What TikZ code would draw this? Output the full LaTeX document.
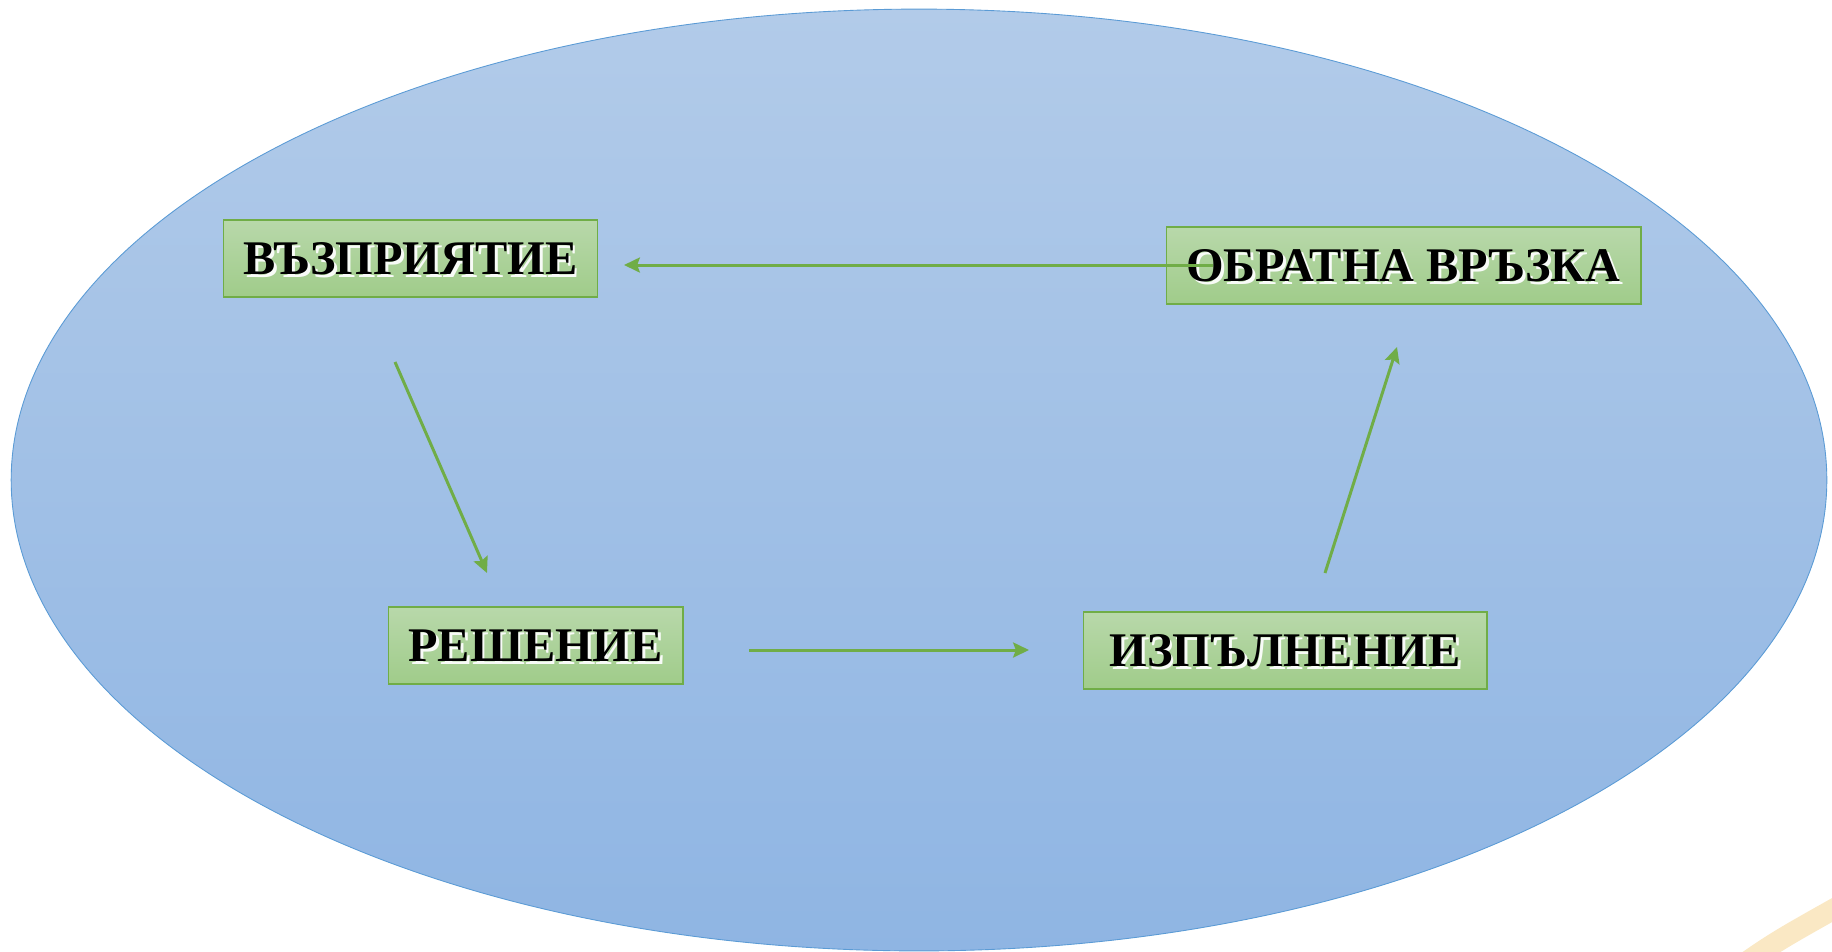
\documentclass[tikz,border=0pt]{standalone}
\usepackage{fontspec}
\setmainfont{Liberation Serif}
\usetikzlibrary{arrows.meta,positioning}

\definecolor{skytop}{RGB}{178,203,233}
\definecolor{skybot}{RGB}{143,181,227}
\definecolor{skyline}{RGB}{91,155,213}
\definecolor{leaftop}{RGB}{184,216,170}
\definecolor{leafbot}{RGB}{160,204,138}
\definecolor{leafline}{RGB}{112,173,71}
\definecolor{sand}{RGB}{250,232,196}

\newcommand\glowtxt[1]{\makebox[0pt][l]{\hspace{1.6pt}\raisebox{-1.6pt}[0pt][0pt]{\color{white!90!leaftop}#1}}#1}

\begin{document}
\begin{tikzpicture}[x=0.02cm,y=0.02cm]
        \tikzset{stage/.style= {draw=leafline, line width=0.6pt, rectangle, top color=leaftop, bottom color=leafbot,
                align=center, minimum height=1.54cm, inner sep=0pt, font=\fontsize{27.5}{30}\selectfont\bfseries},
        flow/.style={draw=leafline, line width=1.7pt, -{Stealth[length=9pt,width=8.5pt,inset=1.5pt]}},
        }
        \useasboundingbox (0,0) rectangle (1832,-951);
        \clip (0,0) rectangle (1832,-951);

        % background
        \shade[top color=skytop, bottom color=skybot, draw=skyline, line width=0.5pt]
                (919,-480) ellipse [x radius=18.16cm, y radius=9.42cm];
        \draw[sand, line width=0.42cm] (1728,-975) .. controls (1775,-942) .. (1850,-900);

        \node [stage, minimum width=7.5cm] (percept) at (410.5,-258.5) {\glowtxt{ВЪЗПРИЯТИЕ}};
        \node [stage, minimum width=9.5cm] (feedback) at (1403.5,-265.5) {\glowtxt{ОБРАТНА ВРЪЗКА}};
        \node [stage, minimum width=5.9cm] (decision) at (535.5,-645.5) {\glowtxt{РЕШЕНИЕ}};
        \node [stage, minimum width=8.08cm] (action) at (1285,-650.5) {\glowtxt{ИЗПЪЛНЕНИЕ}};

        \coordinate (fb_out) at (1213,-265);
        \coordinate (pc_in) at (624,-265);
        \coordinate (pc_out) at (395,-362);
        \coordinate (dc_in) at (487,-573);
        \coordinate (dc_out) at (749,-650);
        \coordinate (ac_in) at (1029,-650);
        \coordinate (ac_out) at (1325,-573);
        \coordinate (fb_in) at (1397,-347);

%%% paths
        \draw[flow] (fb_out) -- (pc_in);
        \draw[flow] (pc_out) -- (dc_in);
        \draw[flow] (dc_out) -- (ac_in);
        \draw[flow] (ac_out) -- (fb_in);
\end{tikzpicture}
\end{document}
